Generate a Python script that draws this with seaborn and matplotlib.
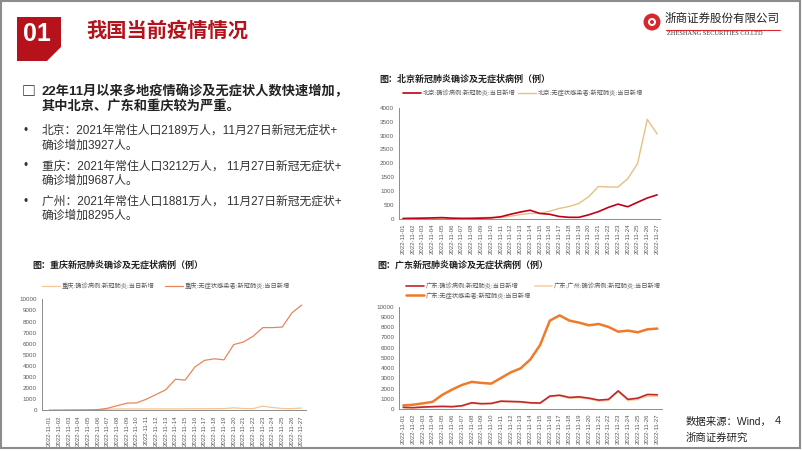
import numpy as np
import pandas as pd
import matplotlib
matplotlib.use("Agg")
import matplotlib.pyplot as plt
from matplotlib.patches import Polygon, Rectangle, Circle
import seaborn as sns

sns.set_style("white")
plt.rcParams['font.family'] = ['Liberation Sans', 'Noto Sans CJK SC', 'DejaVu Sans']

# ---- data ----
dates = ["2022-11-%02d" % d for d in range(1, 28)]

bj_confirmed = [20, 25, 30, 40, 50, 30, 20, 20, 30, 40, 80, 170, 250, 315, 200, 170, 90, 60, 60,
                150, 265, 415, 535, 440, 600, 755, 866]
bj_asym = [10, 15, 20, 25, 30, 20, 30, 40, 50, 60, 50, 100, 160, 200, 200, 280, 380, 450, 560,
           800, 1170, 1150, 1150, 1450, 1990, 3580, 3060]

cq_confirmed = [5, 10, 15, 20, 30, 60, 100, 120, 130, 120, 130, 130, 130, 130, 130, 140, 140, 150,
                150, 220, 160, 150, 380, 250, 160, 150, 207]
cq_asym = [10, 10, 20, 30, 40, 60, 180, 420, 640, 670, 1000, 1420, 1850, 2800, 2720, 3900, 4500,
           4640, 4550, 5920, 6150, 6670, 7450, 7450, 7500, 8780, 9480]

gd_confirmed = [160, 130, 190, 230, 260, 230, 320, 610, 520, 550, 770, 740, 710, 610, 580, 1260,
                1350, 1130, 1190, 1060, 870, 940, 1770, 940, 1060, 1420, 1390]
gz_confirmed = [130, 110, 160, 200, 220, 200, 280, 560, 470, 500, 700, 680, 650, 560, 540, 1200,
                1280, 1050, 1100, 990, 780, 850, 1700, 820, 950, 1250, 1230]
gd_asym = [350, 420, 550, 700, 1390, 1900, 2350, 2650, 2550, 2480, 3030, 3580, 3970, 4840, 6250,
           8640, 9150, 8640, 8440, 8180, 8310, 8020, 7560, 7660, 7500, 7790, 7860]

W, H = 802, 451
fig = plt.figure(figsize=(W / 100, H / 100), dpi=100)

# overlay in pixel coordinates for slide decorations
ax0 = fig.add_axes([0, 0, 1, 1])
ax0.set_xlim(0, W)
ax0.set_ylim(H, 0)
ax0.axis('off')

ax0.add_patch(Rectangle((1, 1), 799, 447, fill=False, edgecolor='#8c8c8c', lw=1.5))
ax0.add_patch(Polygon([(17, 17), (61, 17), (61, 47), (47, 61), (17, 61)], closed=True,
                      facecolor='#B5121B', edgecolor='none'))
ax0.text(36.5, 34, "01", color='white', fontsize=18, fontweight='bold', ha='center', va='center')
ax0.text(86, 31, "我国当前疫情情况", color='#B5121B', fontsize=14.6, fontweight='bold',
         ha='left', va='center')

# logo
ax0.add_patch(Circle((652, 22), 8.5, facecolor='#D7282F', edgecolor='none'))
ax0.add_patch(Circle((652, 22), 4, facecolor='white', edgecolor='none'))
ax0.add_patch(Circle((652, 22), 2, facecolor='#D7282F', edgecolor='none'))
ax0.text(665, 19, "浙商证券股份有限公司", color='#222222', fontsize=8.3, ha='left', va='center')
ax0.plot([666, 780], [29.5, 29.5], color='#D7282F', lw=0.8)
ax0.text(667, 33.5, "ZHESHANG SECURITIES CO.LTD", color='#333333', fontsize=4.6,
         family=['Liberation Serif'], ha='left', va='center')

# bullet text
ax0.text(22, 92, "□", fontsize=10, fontweight='bold', color='#222222', ha='left', va='center',
         family=['Noto Sans CJK SC', 'DejaVu Sans'])
ax0.text(42, 91.5, "22年11月以来多地疫情确诊及无症状人数快速增加，", fontsize=9.5,
         fontweight='bold', color='#222222', ha='left', va='center')
ax0.text(42, 106.5, "其中北京、广东和重庆较为严重。", fontsize=9.5, fontweight='bold',
         color='#222222', ha='left', va='center')

bullets = [
    ("北京：2021年常住人口2189万人，11月27日新冠无症状+", "确诊增加3927人。", 131),
    ("重庆：2021年常住人口3212万人， 11月27日新冠无症状+", "确诊增加9687人。", 166.5),
    ("广州：2021年常住人口1881万人， 11月27日新冠无症状+", "确诊增加8295人。", 201.5),
]
for l1, l2, y in bullets:
    ax0.text(24, y, "•", fontsize=8.5, color='#333333', ha='left', va='center')
    ax0.text(42, y, l1, fontsize=8.5, color='#333333', ha='left', va='center')
    ax0.text(42, y + 14.5, l2, fontsize=8.5, color='#333333', ha='left', va='center')

# chart titles
ax0.text(379, 79, "图：北京新冠肺炎确诊及无症状病例（例）", fontsize=6.5, fontweight='bold',
         color='#222222', ha='left', va='center')
ax0.text(32, 265, "图：重庆新冠肺炎确诊及无症状病例（例）", fontsize=6.5, fontweight='bold',
         color='#222222', ha='left', va='center')
ax0.text(377, 265, "图：广东新冠肺炎确诊及无症状病例（例）", fontsize=6.5, fontweight='bold',
         color='#222222', ha='left', va='center')

# source + page
ax0.text(686, 422, "数据来源：Wind，", fontsize=7.5, color='#222222', ha='left', va='center')
ax0.text(686, 438, "浙商证券研究", fontsize=7.5, color='#222222', ha='left', va='center')
ax0.text(778, 421, "4", fontsize=8, color='#222222', ha='center', va='center')


def px_axes(x0, ytop, x1, ybot):
    return fig.add_axes([x0 / W, 1 - ybot / H, (x1 - x0) / W, (ybot - ytop) / H])


def style_axes(ax, ymax, ystep, xlim):
    ax.set_facecolor('none')
    ax.set_xlim(*xlim)
    ax.set_ylim(0, ymax)
    ax.set_yticks(np.arange(0, ymax + 1, ystep))
    ax.set_xticks(range(len(dates)))
    ax.set_xticklabels(dates, rotation=90)
    for s in ['top', 'right']:
        ax.spines[s].set_visible(False)
    for s in ['left', 'bottom']:
        ax.spines[s].set_color('#8c8c8c')
        ax.spines[s].set_linewidth(0.7)
    ax.tick_params(axis='y', labelsize=4.5, colors='#595959', length=2, width=0.5, pad=1.5)
    ax.tick_params(axis='x', labelsize=4.3, colors='#595959', length=2, width=0.5, pad=1.5)
    ax.set_xlabel("")
    ax.set_ylabel("")
    ax.grid(False)


idx = np.arange(len(dates))

# Beijing
ax1 = px_axes(399, 107.7, 660, 219)
sns.lineplot(x=idx, y=bj_asym, ax=ax1, color='#E6C083', lw=1.0, label="北京:无症状感染者:新冠肺炎:当日新增")
sns.lineplot(x=idx, y=bj_confirmed, ax=ax1, color='#C00018', lw=1.2, label="北京:确诊病例:新冠肺炎:当日新增")
style_axes(ax1, 4000, 500, (-0.41, 26.3))
h, l = ax1.get_legend_handles_labels()
ax1.legend([h[1], h[0]], [l[1], l[0]], ncol=2, loc='center', bbox_to_anchor=(523 / W, 1 - 92.7 / H),
           bbox_transform=fig.transFigure, frameon=False, fontsize=4.5, handlelength=2.8,
           handletextpad=0.3, columnspacing=0.5, labelcolor='#595959')

# Chongqing
ax2 = px_axes(41.7, 299.3, 306, 410.3)
sns.lineplot(x=idx, y=cq_confirmed, ax=ax2, color='#F4C597', lw=0.9, label="重庆:确诊病例:新冠肺炎:当日新增")
sns.lineplot(x=idx, y=cq_asym, ax=ax2, color='#E8865A', lw=0.9, label="重庆:无症状感染者:新冠肺炎:当日新增")
style_axes(ax2, 10000, 1000, (-0.78, 26.45))
ax2.legend(ncol=2, loc='center', bbox_to_anchor=(166 / W, 1 - 286 / H),
           bbox_transform=fig.transFigure, frameon=False, fontsize=4.5, handlelength=2.8,
           handletextpad=0.3, columnspacing=1.8, labelcolor='#595959')

# Guangdong
ax3 = px_axes(399.3, 306.7, 661.7, 409)
sns.lineplot(x=idx, y=gd_asym, ax=ax3, color='#F07A2A', lw=1.8, label="广东:无症状感染者:新冠肺炎:当日新增")
sns.lineplot(x=idx, y=gz_confirmed, ax=ax3, color='#F6D3A6', lw=1.2, label="广东:广州:确诊病例:新冠肺炎:当日新增")
sns.lineplot(x=idx, y=gd_confirmed, ax=ax3, color='#C0262D', lw=1.2, label="广东:确诊病例:新冠肺炎:当日新增")
style_axes(ax3, 10000, 1000, (-0.41, 26.45))
h, l = ax3.get_legend_handles_labels()
ax3.legend([h[2], h[0], h[1]], [l[2], l[0], l[1]], ncol=2, loc='upper left',
           bbox_to_anchor=(402 / W, 1 - 278.5 / H), bbox_transform=fig.transFigure, frameon=False,
           fontsize=4.5, handlelength=2.8, handletextpad=0.3, columnspacing=0.6,
           labelspacing=0.4, labelcolor='#595959', borderpad=0.2)

fig.savefig("out.png", dpi=100)
